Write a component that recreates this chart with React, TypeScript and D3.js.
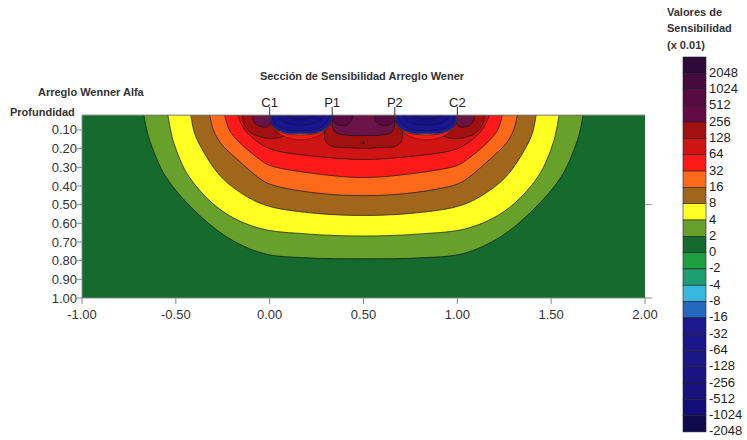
import React from "react";
import * as d3 from "d3";

type Pt = [number, number];

// ---- axis ticks ----
const X_TICKS = [-1, -0.5, 0, 0.5, 1, 1.5, 2];
const Y_TICKS = [0.1, 0.2, 0.3, 0.4, 0.5, 0.6, 0.7, 0.8, 0.9, 1.0];

// ---- electrodes ----
const ELECTRODE_LABELS = ["C1", "P1", "P2", "C2"];
const ELECTRODE_X = [0, 0.333, 0.667, 1.0];

// ---- legend ----
const LEGEND_LABELS = [
  "2048", "1024", "512", "256", "128", "64", "32", "16", "8", "4", "2", "0",
  "-2", "-4", "-8", "-16", "-32", "-64", "-128", "-256", "-512", "-1024", "-2048",
];
const LEGEND_COLORS = [
  "#2c0b3a", "#470a3c", "#560a40", "#620b44", "#a2100f", "#d01414", "#ff1a1a",
  "#ff6a1a", "#a0661c", "#ffff22", "#68a02c", "#146b2d", "#1fa040", "#1f9e74",
  "#36b8e0", "#2468c0", "#1c198e", "#1a178a", "#191687", "#181483", "#16127e",
  "#140f78", "#0f0b4e",
];

// ---- contour boundaries: [x, depth] ----
const LEVEL_2: Pt[] = [[-0.67, 0.02], [-0.655, 0.1], [-0.634, 0.172], [-0.554, 0.35], [-0.403, 0.529], [-0.23, 0.672], [-0.035, 0.761], [0.2, 0.785], [0.5, 0.79], [0.8, 0.785], [1.035, 0.761], [1.23, 0.672], [1.403, 0.529], [1.554, 0.35], [1.634, 0.172], [1.655, 0.1], [1.67, 0.02]];
const LEVEL_4: Pt[] = [[-0.542, 0.02], [-0.528, 0.1], [-0.51, 0.172], [-0.43, 0.35], [-0.26, 0.529], [-0.06, 0.625], [0.2, 0.657], [0.5, 0.668], [0.8, 0.657], [1.06, 0.625], [1.26, 0.529], [1.43, 0.35], [1.51, 0.172], [1.528, 0.1], [1.542, 0.02]];
const LEVEL_8: Pt[] = [[-0.42, 0.02], [-0.405, 0.1], [-0.377, 0.172], [-0.26, 0.35], [-0.12, 0.458], [0.0, 0.51], [0.25, 0.547], [0.5, 0.558], [0.75, 0.547], [1.0, 0.51], [1.12, 0.458], [1.26, 0.35], [1.377, 0.172], [1.405, 0.1], [1.42, 0.02]];
const LEVEL_16: Pt[] = [[-0.32, 0.02], [-0.3, 0.1], [-0.26, 0.172], [-0.17, 0.26], [-0.066, 0.35], [0.0, 0.39], [0.25, 0.438], [0.5, 0.452], [0.75, 0.438], [1.0, 0.39], [1.066, 0.35], [1.17, 0.26], [1.26, 0.172], [1.3, 0.1], [1.32, 0.02]];
const LEVEL_32: Pt[] = [[-0.24, 0.02], [-0.215, 0.1], [-0.155, 0.172], [-0.05, 0.26], [0.0, 0.29], [0.25, 0.335], [0.5, 0.355], [0.75, 0.335], [1.0, 0.29], [1.05, 0.26], [1.155, 0.172], [1.215, 0.1], [1.24, 0.02]];
const LEVEL_64: Pt[] = [[-0.17, 0.02], [-0.145, 0.08], [-0.1, 0.135], [-0.04, 0.18], [0.03, 0.21], [0.25, 0.242], [0.5, 0.258], [0.75, 0.242], [0.97, 0.21], [1.04, 0.18], [1.1, 0.135], [1.145, 0.08], [1.17, 0.02]];

const C1_RED: Pt[] = [[-0.145, 0.02], [-0.135, 0.07], [-0.1, 0.115], [-0.04, 0.14], [0.03, 0.145], [0.08, 0.125], [0.09, 0.02]];
const C1_PURPLE: Pt[] = [[-0.09, 0.02], [-0.085, 0.055], [-0.05, 0.082], [-0.01, 0.082], [0.01, 0.05], [0.01, 0.02]];
const CENTER_RED: Pt[] = [[0.3, 0.02], [0.293, 0.1], [0.298, 0.16], [0.33, 0.187], [0.42, 0.195], [0.5, 0.198], [0.58, 0.195], [0.67, 0.187], [0.702, 0.16], [0.707, 0.1], [0.7, 0.02]];
const CENTER_PURPLE: Pt[] = [[0.335, 0.02], [0.335, 0.08], [0.35, 0.112], [0.4, 0.127], [0.5, 0.13], [0.6, 0.127], [0.65, 0.112], [0.665, 0.08], [0.665, 0.02]];
const P1_DARK: Pt[] = [[0.335, 0.02], [0.34, 0.055], [0.37, 0.075], [0.41, 0.072], [0.435, 0.05], [0.44, 0.02]];

const NEG_RING64: Pt[] = [[0.0, 0.02], [0.012, 0.07], [0.045, 0.115], [0.1, 0.143], [0.165, 0.153], [0.23, 0.143], [0.285, 0.115], [0.318, 0.07], [0.333, 0.02]];
const NEG_RING16: Pt[] = [[0.004, 0.02], [0.005, 0.055], [0.025, 0.092], [0.08, 0.119], [0.165, 0.127], [0.25, 0.119], [0.305, 0.092], [0.327, 0.055], [0.329, 0.02]];
const NEG_RING4: Pt[] = [[0.004, 0.02], [0.005, 0.055], [0.025, 0.091], [0.08, 0.117], [0.165, 0.124], [0.25, 0.117], [0.305, 0.091], [0.327, 0.055], [0.329, 0.02]];
const NEG_CORE: Pt[] = [[0.004, 0.02], [0.005, 0.055], [0.025, 0.09], [0.08, 0.115], [0.165, 0.121], [0.25, 0.115], [0.305, 0.09], [0.327, 0.055], [0.329, 0.02]];
const NEG_IN1: Pt[] = [[0.015, 0.02], [0.025, 0.06], [0.07, 0.093], [0.165, 0.104], [0.26, 0.093], [0.305, 0.06], [0.318, 0.02]];
const NEG_IN2: Pt[] = [[0.04, 0.02], [0.07, 0.055], [0.165, 0.075], [0.26, 0.055], [0.29, 0.02]];
const NEG_IN3: Pt[] = [[0.08, 0.02], [0.165, 0.045], [0.25, 0.02]];

const MARKERS: Pt[] = [[0.5, 0.17]];

// chart is symmetric about the array centre (x = 0.5)
const mirror = (pts: Pt[]): Pt[] => pts.map(([x, d]) => [1 - x, d] as Pt);

const COL = (label: string) => LEGEND_COLORS[LEGEND_LABELS.indexOf(label)];

export default function App() {
  const W = 747, H = 440;
  const left = 82, right = 645, top = 115, bottom = 298;
  const x = d3.scaleLinear().domain([-1, 2]).range([left, right]);
  const y = d3.scaleLinear().domain([0.02, 1.0]).range([top, bottom]);
  const line = d3
    .line<Pt>()
    .x((d) => x(d[0]))
    .y((d) => y(d[1]))
    .curve(d3.curveCatmullRom.alpha(0.5));
  const path = (pts: Pt[]) => (line(pts) || "") + "Z";

  const layers: { pts: Pt[]; color: string }[] = [
    { pts: LEVEL_2, color: COL("2") },
    { pts: LEVEL_4, color: COL("4") },
    { pts: LEVEL_8, color: COL("8") },
    { pts: LEVEL_16, color: COL("16") },
    { pts: LEVEL_32, color: COL("32") },
    { pts: LEVEL_64, color: COL("64") },
    { pts: C1_RED, color: COL("128") },
    { pts: mirror(C1_RED), color: COL("128") },
    { pts: CENTER_RED, color: COL("128") },
    { pts: C1_PURPLE, color: "#6a1346" },
    { pts: mirror(C1_PURPLE), color: "#6a1346" },
    { pts: CENTER_PURPLE, color: "#6a1346" },
    { pts: P1_DARK, color: "#5a0c42" },
    { pts: mirror(P1_DARK), color: "#5a0c42" },
  ];
  const negLayers: { pts: Pt[]; color: string }[] = [
    { pts: NEG_RING64, color: COL("32") },
    { pts: NEG_RING16, color: COL("16") },
    { pts: NEG_RING4, color: COL("4") },
    { pts: NEG_CORE, color: "#1b1a98" },
    { pts: NEG_IN1, color: "#181690" },
    { pts: NEG_IN2, color: "#17148a" },
    { pts: NEG_IN3, color: "#151284" },
  ];
  const negOrdered: { pts: Pt[]; color: string }[] = [];
  negLayers.forEach((l) => {
    negOrdered.push(l);
    negOrdered.push({ pts: mirror(l.pts), color: l.color });
  });

  const font = "'Liberation Sans', Arial, Helvetica, sans-serif";
  const boxTop = 57, boxH = 16.3, boxX = 683, boxW = 23;

  return (
    <svg width={W} height={H} style={{ position: "absolute", left: 0, top: 0, background: "#fff" }} fontFamily={font}>
      <defs>
        <clipPath id="plotclip">
          <rect x={left} y={top} width={right - left} height={bottom - top} />
        </clipPath>
      </defs>
      <rect x={0} y={0} width={W} height={H} fill="#fff" />

      {/* titles */}
      <text x={362} y={80} textAnchor="middle" fontSize={11} fontWeight="bold" fill="#333">
        Sección de  Sensibilidad Arreglo Wener
      </text>
      <text x={38} y={96} fontSize={11} fontWeight="bold" fill="#333">Arreglo Wenner Alfa</text>
      <text x={10} y={116} fontSize={11} fontWeight="bold" fill="#333">Profundidad</text>

      {/* plot */}
      <g clipPath="url(#plotclip)">
        <rect x={left} y={top} width={right - left} height={bottom - top} fill={COL("0")} />
        {layers.map((l, i) => (
          <path key={"l" + i} d={path(l.pts)} fill={l.color} stroke="#111" strokeWidth={0.8} strokeOpacity={0.85} />
        ))}
        {negOrdered.map((l, i) => (
          <path key={"n" + i} d={path(l.pts)} fill={l.color} stroke="#111" strokeWidth={0.6} strokeOpacity={0.75} />
        ))}
        {MARKERS.map((m, i) => (
          <g key={"m" + i} stroke="#222" strokeWidth={1}>
            <line x1={x(m[0]) - 1.5} x2={x(m[0]) + 1.5} y1={y(m[1])} y2={y(m[1])} />
            <line x1={x(m[0])} x2={x(m[0])} y1={y(m[1]) - 1.5} y2={y(m[1]) + 1.5} />
          </g>
        ))}
      </g>

      {/* frame / axes */}
      <line x1={left} x2={right} y1={top} y2={top} stroke="#9a9a9a" strokeWidth={1} />
      <line x1={left} x2={left} y1={top} y2={bottom} stroke="#888" strokeWidth={1} />
      <line x1={left} x2={right + 7} y1={bottom} y2={bottom} stroke="#888" strokeWidth={1} />
      <line x1={right} x2={right + 7} y1={y(0.5)} y2={y(0.5)} stroke="#999" strokeWidth={1} />

      {Y_TICKS.map((t) => (
        <g key={"y" + t}>
          <line x1={left - 5} x2={left} y1={y(t)} y2={y(t)} stroke="#888" />
          <text x={left - 5} y={y(t)} dy="0.35em" textAnchor="end" fontSize={13} fill="#333">
            {t.toFixed(2)}
          </text>
        </g>
      ))}
      {X_TICKS.map((t) => (
        <g key={"x" + t}>
          <line x1={x(t)} x2={x(t)} y1={bottom} y2={bottom + 6} stroke="#888" />
          <text x={x(t)} y={bottom + 16} dy="0.35em" textAnchor="middle" fontSize={13} fill="#333">
            {t.toFixed(2)}
          </text>
        </g>
      ))}

      {/* electrodes */}
      {ELECTRODE_X.map((ex, i) => (
        <g key={"e" + i}>
          <line x1={x(ex)} x2={x(ex)} y1={107} y2={119} stroke="#333" strokeWidth={1} />
          <text x={x(ex)} y={102} dy="0.35em" textAnchor="middle" fontSize={13} fill="#222">
            {ELECTRODE_LABELS[i]}
          </text>
        </g>
      ))}

      {/* legend */}
      <text x={667} y={16} fontSize={11} fontWeight="bold" fill="#333">Valores de</text>
      <text x={667} y={32} fontSize={11} fontWeight="bold" fill="#333">Sensibilidad</text>
      <text x={667} y={49} fontSize={11} fontWeight="bold" fill="#333">(x 0.01)</text>
      {LEGEND_LABELS.map((lab, i) => (
        <g key={"lg" + i}>
          <rect x={boxX} y={boxTop + i * boxH} width={boxW} height={boxH} fill={LEGEND_COLORS[i]} stroke="#222" strokeWidth={0.6} />
          <text x={boxX + boxW + 3} y={boxTop + (i + 1) * boxH - 1} dy="0.35em" fontSize={13} fill="#222">
            {lab}
          </text>
        </g>
      ))}
    </svg>
  );
}
